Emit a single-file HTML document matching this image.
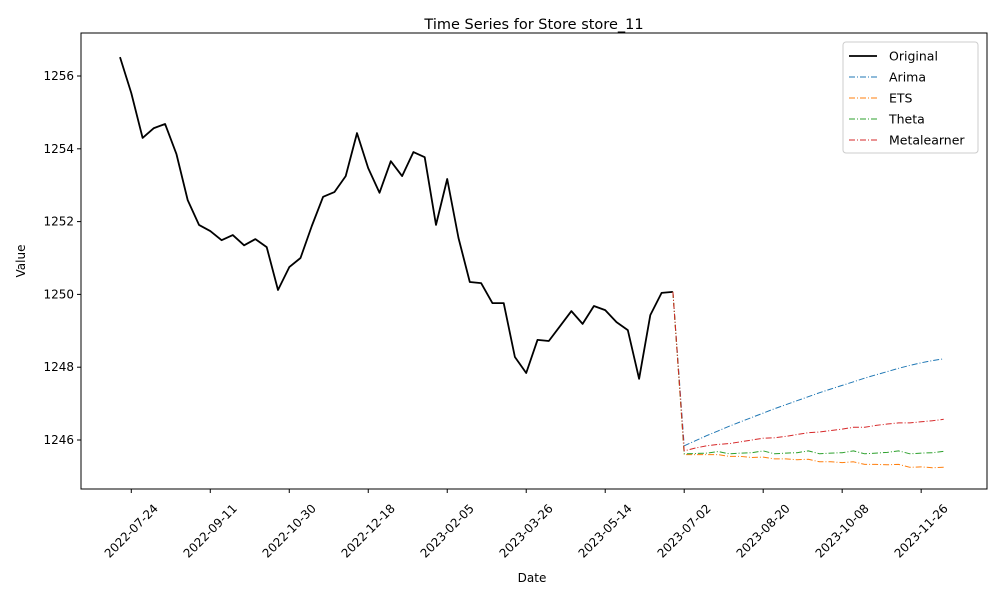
<!DOCTYPE html>
<html><head><meta charset="utf-8"><style>
body{margin:0;background:#fff;font-family:"Liberation Sans","DejaVu Sans",sans-serif}
svg text{font-family:"DejaVu Sans","Liberation Sans",sans-serif}
</style></head><body>
<svg id="chart" width="1000" height="600" xmlns="http://www.w3.org/2000/svg"></svg>
<script>
const original = [1256.52,1255.53,1254.30,1254.57,1254.68,1253.86,1252.59,1251.91,1251.74,1251.49,1251.63,1251.35,1251.52,1251.30,1250.12,1250.75,1251.00,1251.88,1252.68,1252.81,1253.25,1254.43,1253.47,1252.79,1253.66,1253.25,1253.91,1253.77,1251.91,1253.17,1251.55,1250.34,1250.31,1249.76,1249.76,1248.28,1247.84,1248.75,1248.72,1249.13,1249.54,1249.19,1249.68,1249.57,1249.24,1249.02,1247.68,1249.43,1250.04,1250.07];
const arima = [1245.84,1245.98,1246.12,1246.25,1246.38,1246.50,1246.62,1246.74,1246.86,1246.97,1247.08,1247.19,1247.30,1247.40,1247.50,1247.60,1247.70,1247.79,1247.88,1247.97,1248.05,1248.12,1248.18,1248.23];
const ets = [1245.60,1245.60,1245.60,1245.60,1245.55,1245.55,1245.52,1245.53,1245.48,1245.48,1245.46,1245.47,1245.40,1245.40,1245.38,1245.40,1245.33,1245.33,1245.32,1245.33,1245.25,1245.26,1245.24,1245.25];
const theta = [1245.62,1245.63,1245.64,1245.68,1245.62,1245.64,1245.65,1245.70,1245.62,1245.64,1245.65,1245.70,1245.62,1245.64,1245.65,1245.70,1245.62,1245.64,1245.66,1245.70,1245.62,1245.64,1245.65,1245.69];
const meta = [1245.70,1245.78,1245.84,1245.88,1245.90,1245.95,1246.00,1246.05,1246.06,1246.10,1246.15,1246.20,1246.22,1246.26,1246.30,1246.35,1246.35,1246.40,1246.44,1246.47,1246.47,1246.50,1246.53,1246.57];
const yTicks = [1246,1248,1250,1252,1254,1256];
const xTickLabels = ["2022-07-24","2022-09-11","2022-10-30","2022-12-18","2023-02-05","2023-03-26","2023-05-14","2023-07-02","2023-08-20","2023-10-08","2023-11-26"];
const startDate = "2022-07-17";

const NS="http://www.w3.org/2000/svg";
const svg=document.getElementById('chart');
const L=81,R=987,T=33,B=489;
const day0=Date.parse(startDate+"T00:00:00Z");
function xDay(d){return 120+d*1.612;}
function xDate(s){return xDay((Date.parse(s+"T00:00:00Z")-day0)/86400000);}
function y(v){return 440-(v-1246)*36.4;}
function el(tag,attrs,parent){const e=document.createElementNS(NS,tag);for(const k in attrs)e.setAttribute(k,attrs[k]);(parent||svg).appendChild(e);return e;}

const frame=el('rect',{x:L,y:T,width:R-L,height:B-T,fill:'none',stroke:'#000','stroke-width':1});



yTicks.forEach(v=>{
  const g=el('g',{});
  
  
  el('line',{x1:L-4,x2:L,y1:y(v),y2:y(v),stroke:'#000'},g);
  const t=el('text',{x:L-7,y:y(v)+4,'text-anchor':'end','font-size':12},g);t.textContent=v;
});
xTickLabels.forEach(s=>{
  const x=xDate(s);
  const g=el('g',{});
  
  
  el('line',{x1:x,x2:x,y1:B,y2:B+4,stroke:'#000'},g);
  const cy=B+42;
  const t=el('text',{x:x,y:cy+4,'text-anchor':'middle','font-size':12,transform:`rotate(-45 ${x} ${cy})`},g);t.textContent=s;
});

function series(vals,offset,color,dash,name,width){
  const pts=vals.map((v,i)=>xDay((i+offset)*7).toFixed(1)+','+y(v).toFixed(1)).join(' ');
  const p=el('polyline',{points:pts,fill:'none',stroke:color,'stroke-width':width,'stroke-dasharray':dash||'none','stroke-linejoin':'round'});
  
  
}
const last=original[original.length-1], n=original.length-1;
series(original,0,'#000',null,'original-line',1.8);
series([last].concat(arima),n,'#1f77b4','6,2,1,2','arima-line',1);
series([last].concat(ets),n,'#ff7f0e','6,2,1,2','ets-line',1);
series([last].concat(theta),n,'#2ca02c','6,2,1,2','theta-line',1);
series([last].concat(meta),n,'#d62728','6,2,1,2','metalearner-line',1);

const title=el('text',{x:534,y:29,'text-anchor':'middle','font-size':14.5});title.textContent='Time Series for Store store_11';


const xl=el('text',{x:532,y:582,'text-anchor':'middle','font-size':12});xl.textContent='Date';


const yl=el('text',{x:25,y:261,'text-anchor':'middle','font-size':12,transform:'rotate(-90 25 261)'});yl.textContent='Value';



const lg=el('g',{});


el('rect',{x:843,y:42,width:135,height:111,rx:3,fill:'#fff',stroke:'#ccc'},lg);
[['Original','#000',null,1.8],['Arima','#1f77b4','6,2,1,2',1],['ETS','#ff7f0e','6,2,1,2',1],['Theta','#2ca02c','6,2,1,2',1],['Metalearner','#d62728','6,2,1,2',1]].forEach((e,i)=>{
  const g=el('g',{},lg);
  
  
  const yy=56+i*21;
  el('line',{x1:849,x2:877,y1:yy,y2:yy,stroke:e[1],'stroke-width':e[3],'stroke-dasharray':e[2]||'none'},g);
  const t=el('text',{x:889,y:yy+4.5,'font-size':12.5},g);t.textContent=e[0];
});
</script>
</body></html>
